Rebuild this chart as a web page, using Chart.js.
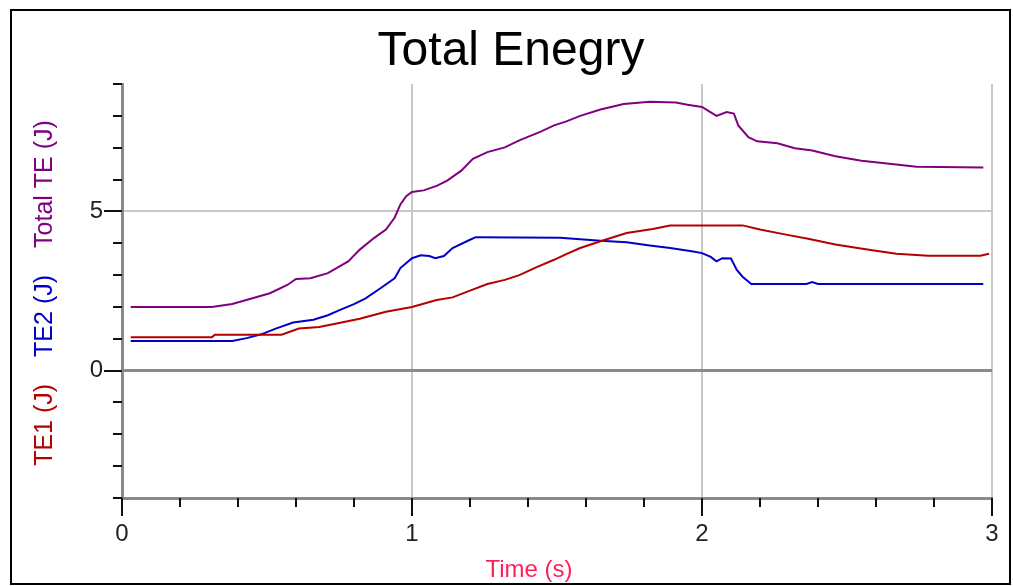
<!DOCTYPE html>
<html>
<head>
<meta charset="utf-8">
<title>Total Enegry</title>
<script src="https://cdn.jsdelivr.net/npm/chart.js@4/dist/chart.umd.min.js"></script>
<style>
  html, body { margin: 0; padding: 0; background: #fff; }
  #wrap { position: relative; width: 1013px; height: 586px; }
</style>
</head>
<body>
<div id="wrap"><canvas id="chart" width="1013" height="586"></canvas></div>
<script>
// values
const te1Time = [0.03, 0.31, 0.32, 0.55, 0.61, 0.68, 0.74, 0.82, 0.91, 1.0, 1.085, 1.14, 1.2, 1.26, 1.32, 1.37, 1.43, 1.49, 1.53, 1.58, 1.65, 1.74, 1.83, 1.89, 2.14, 2.2, 2.29, 2.37, 2.46, 2.57, 2.67, 2.78, 2.96, 2.99];
const te1 = [1.05, 1.05, 1.13, 1.13, 1.32, 1.37, 1.48, 1.63, 1.85, 2.0, 2.22, 2.3, 2.51, 2.72, 2.85, 3.0, 3.25, 3.48, 3.65, 3.85, 4.06, 4.32, 4.45, 4.56, 4.56, 4.43, 4.27, 4.13, 3.96, 3.8, 3.67, 3.61, 3.61, 3.67];

const te2Time = [0.03, 0.38, 0.43, 0.48, 0.53, 0.59, 0.66, 0.71, 0.75, 0.8, 0.84, 0.89, 0.94, 0.96, 1.0, 1.03, 1.06, 1.08, 1.11, 1.14, 1.2, 1.22, 1.51, 1.65, 1.74, 1.82, 1.89, 1.97, 2.0, 2.03, 2.05, 2.07, 2.1, 2.12, 2.14, 2.17, 2.36, 2.38, 2.4, 2.97];
const te2 = [0.93, 0.93, 1.02, 1.14, 1.32, 1.51, 1.6, 1.74, 1.9, 2.09, 2.27, 2.58, 2.9, 3.22, 3.53, 3.62, 3.6, 3.53, 3.6, 3.85, 4.11, 4.19, 4.17, 4.08, 4.03, 3.93, 3.85, 3.74, 3.69, 3.57, 3.43, 3.53, 3.52, 3.16, 2.95, 2.72, 2.72, 2.78, 2.72, 2.72];

const totalTime = [0.03, 0.31, 0.38, 0.45, 0.51, 0.57, 0.6, 0.65, 0.71, 0.78, 0.82, 0.87, 0.91, 0.94, 0.96, 0.98, 1.0, 1.04, 1.085, 1.12, 1.17, 1.21, 1.26, 1.32, 1.37, 1.44, 1.49, 1.53, 1.58, 1.65, 1.73, 1.82, 1.91, 1.95, 2.0, 2.05, 2.085, 2.11, 2.125, 2.16, 2.19, 2.26, 2.32, 2.38, 2.46, 2.55, 2.63, 2.74, 2.97];
const totalTE = [2.0, 2.0, 2.09, 2.27, 2.43, 2.69, 2.88, 2.9, 3.06, 3.43, 3.8, 4.17, 4.43, 4.8, 5.22, 5.48, 5.61, 5.66, 5.8, 5.96, 6.28, 6.65, 6.86, 7.01, 7.23, 7.49, 7.7, 7.82, 8.0, 8.2, 8.37, 8.44, 8.42, 8.35, 8.28, 8.0, 8.12, 8.07, 7.7, 7.33, 7.2, 7.14, 6.98, 6.91, 6.73, 6.59, 6.51, 6.4, 6.38];

const yLabelled = [0, 5];
const yRange = [-4, 9];
const xRange = [0, 3];

const RED = '#b40000';
const BLUE = '#0000c8';
const PURPLE = '#800080';
const FONT = "'Liberation Sans', Arial, sans-serif";

const toPoints = (ts, vs) => ts.map((t, i) => ({ x: t, y: vs[i] }));
const isInt = (v) => Math.abs(v - Math.round(v)) < 1e-6;

// short tick marks, longer ones where there is a label
const tickMarks = {
  id: 'tickMarks',
  afterDraw(chart) {
    const { ctx, scales: { x, y } } = chart;
    ctx.save();
    ctx.strokeStyle = '#111';
    ctx.lineWidth = 2;
    y.ticks.forEach((t) => {
      const py = Math.round(y.getPixelForValue(t.value));
      const len = yLabelled.includes(t.value) ? 18 : 9;
      ctx.beginPath();
      ctx.moveTo(y.right - len, py);
      ctx.lineTo(y.right, py);
      ctx.stroke();
    });
    x.ticks.forEach((t) => {
      const px = Math.round(x.getPixelForValue(t.value));
      const len = isInt(t.value) ? 18 : 9;
      ctx.beginPath();
      ctx.moveTo(px, x.top);
      ctx.lineTo(px, x.top + len);
      ctx.stroke();
    });
    ctx.restore();
  }
};

// chart title, axis titles (the vertical one in three colours) and outer frame
const texts = {
  id: 'texts',
  afterDraw(chart) {
    const { ctx, chartArea } = chart;
    ctx.save();
    ctx.textAlign = 'center';
    ctx.textBaseline = 'alphabetic';
    ctx.fillStyle = '#000';
    ctx.font = '48px ' + FONT;
    ctx.fillText('Total Enegry', 511, 65);
    ctx.fillStyle = '#ff2058';
    ctx.font = '24px ' + FONT;
    ctx.fillText('Time (s)', 529, 577);
    ctx.restore();

    const parts = [['TE1 (J)', RED], ['TE2 (J)', BLUE], ['Total TE (J)', PURPLE]];
    const gap = 27;
    ctx.save();
    ctx.font = '25px ' + FONT;
    const widths = parts.map((p) => ctx.measureText(p[0]).width);
    const total = widths.reduce((a, b) => a + b, 0) + gap * (parts.length - 1);
    const cy = (chartArea.top + chartArea.bottom) / 2 + 2;
    ctx.translate(52, cy);
    ctx.rotate(-Math.PI / 2);
    ctx.textBaseline = 'alphabetic';
    let pos = -total / 2;
    parts.forEach((p, i) => {
      ctx.fillStyle = p[1];
      ctx.fillText(p[0], pos, 0);
      pos += widths[i] + gap;
    });
    ctx.restore();

    ctx.save();
    ctx.strokeStyle = '#000';
    ctx.lineWidth = 2;
    ctx.strokeRect(11, 10, 999, 574);
    ctx.restore();
  }
};

new Chart(document.getElementById('chart'), {
  type: 'line',
  data: {
    datasets: [
      { label: 'TE1 (J)', data: toPoints(te1Time, te1), borderColor: RED },
      { label: 'TE2 (J)', data: toPoints(te2Time, te2), borderColor: BLUE },
      { label: 'Total TE (J)', data: toPoints(totalTime, totalTE), borderColor: PURPLE },
    ],
  },
  options: {
    responsive: false,
    animation: false,
    devicePixelRatio: 1,
    layout: { padding: { top: 84, left: 0, right: 21, bottom: 0 } },
    elements: {
      line: { borderWidth: 2, tension: 0, fill: false },
      point: { radius: 0 },
    },
    plugins: {
      legend: { display: false },
      tooltip: { enabled: false },
      title: { display: false },
    },
    scales: {
      x: {
        type: 'linear',
        min: xRange[0],
        max: xRange[1],
        afterFit(scale) {
          scale.height = 88;
          scale.paddingLeft = 0;
          scale.paddingRight = 0;
        },
        ticks: {
          stepSize: 0.2,
          autoSkip: false,
          maxRotation: 0,
          padding: 22,
          color: '#222',
          font: { family: FONT, size: 24 },
          callback: (v) => (isInt(v) ? String(Math.round(v)) : ''),
        },
        grid: {
          drawTicks: false,
          color: (c) => (c.tick && isInt(c.tick.value) && c.tick.value > 0 ? '#c8c8c8' : 'rgba(0,0,0,0)'),
          lineWidth: 2,
        },
        border: { color: '#8a8a8a', width: 3 },
      },
      y: {
        min: yRange[0],
        max: yRange[1],
        afterFit(scale) {
          scale.width = 122;
          scale.paddingTop = 0;
          scale.paddingBottom = 0;
        },
        ticks: {
          stepSize: 1,
          autoSkip: false,
          padding: 19,
          color: '#222',
          font: { family: FONT, size: 24 },
          callback: (v) => (yLabelled.includes(v) ? String(v) : ''),
        },
        grid: {
          drawTicks: false,
          color: (c) => {
            if (!c.tick) return 'rgba(0,0,0,0)';
            if (c.tick.value === 0) return '#8a8a8a';
            if (c.tick.value === 5) return '#c8c8c8';
            return 'rgba(0,0,0,0)';
          },
          lineWidth: (c) => (c.tick && c.tick.value === 0 ? 3 : 2),
        },
        border: { color: '#8a8a8a', width: 3 },
      },
    },
  },
  plugins: [tickMarks, texts],
});
</script>
</body>
</html>
